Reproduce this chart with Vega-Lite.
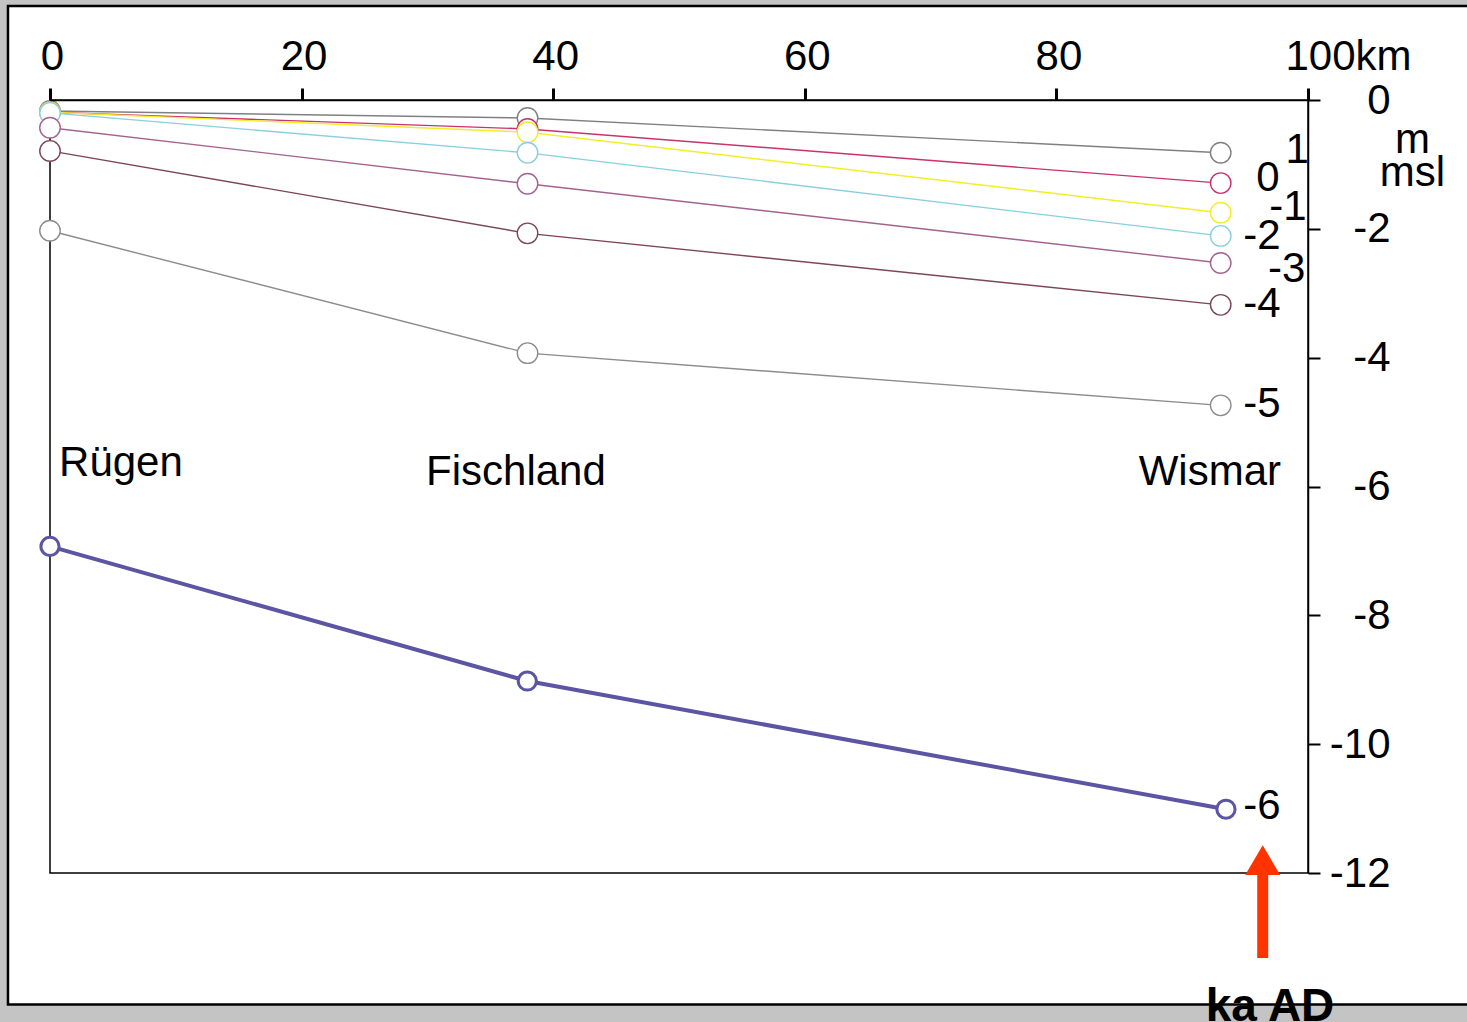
{
  "$schema": "https://vega.github.io/schema/vega-lite/v6.json",
  "autosize": {"type": "none"},
  "width": 1258,
  "height": 773,
  "padding": {"left": 50, "top": 100, "right": 159, "bottom": 149},
  "background": "#c4c4c4",
  "config": {
    "view": {"stroke": null},
    "font": "Liberation Sans"
  },
  "datasets": {
    "levels": [
      {"ka": "1", "place": "Rügen", "km": 0, "m": -0.17},
      {"ka": "1", "place": "Fischland", "km": 37.96, "m": -0.28},
      {"ka": "1", "place": "Wismar", "km": 93.06, "m": -0.82},
      {"ka": "0", "place": "Rügen", "km": 0, "m": -0.19},
      {"ka": "0", "place": "Fischland", "km": 37.96, "m": -0.45},
      {"ka": "0", "place": "Wismar", "km": 93.06, "m": -1.29},
      {"ka": "-1", "place": "Rügen", "km": 0, "m": -0.19},
      {"ka": "-1", "place": "Fischland", "km": 37.96, "m": -0.5},
      {"ka": "-1", "place": "Wismar", "km": 93.06, "m": -1.75},
      {"ka": "-2", "place": "Rügen", "km": 0, "m": -0.2},
      {"ka": "-2", "place": "Fischland", "km": 37.96, "m": -0.82},
      {"ka": "-2", "place": "Wismar", "km": 93.06, "m": -2.11},
      {"ka": "-3", "place": "Rügen", "km": 0, "m": -0.43},
      {"ka": "-3", "place": "Fischland", "km": 37.96, "m": -1.3},
      {"ka": "-3", "place": "Wismar", "km": 93.06, "m": -2.53},
      {"ka": "-4", "place": "Rügen", "km": 0, "m": -0.79},
      {"ka": "-4", "place": "Fischland", "km": 37.96, "m": -2.07},
      {"ka": "-4", "place": "Wismar", "km": 93.06, "m": -3.18},
      {"ka": "-5", "place": "Rügen", "km": 0, "m": -2.03},
      {"ka": "-5", "place": "Fischland", "km": 37.96, "m": -3.93},
      {"ka": "-5", "place": "Wismar", "km": 93.06, "m": -4.74},
      {"ka": "-6", "place": "Rügen", "km": 0, "m": -6.93},
      {"ka": "-6", "place": "Fischland", "km": 37.94, "m": -9.02},
      {"ka": "-6", "place": "Wismar", "km": 93.48, "m": -11.01}
    ],
    "serieslabels": [
      {"ka": "1", "km": 99.13, "m": -0.78},
      {"ka": "0", "km": 96.82, "m": -1.21},
      {"ka": "-1", "km": 98.4, "m": -1.66},
      {"ka": "-2", "km": 96.34, "m": -2.11},
      {"ka": "-3", "km": 98.3, "m": -2.62},
      {"ka": "-4", "km": 96.34, "m": -3.17},
      {"ka": "-5", "km": 96.34, "m": -4.72},
      {"ka": "-6", "km": 96.34, "m": -10.96}
    ],
    "places": [
      {"place": "Rügen", "km": 5.64, "m": -5.64},
      {"place": "Fischland", "km": 37.04, "m": -5.78},
      {"place": "Wismar", "km": 92.2, "m": -5.78}
    ]
  },
  "layer": [
    {
      "data": {"values": [{}]},
      "mark": {"type": "rect", "fill": "white", "stroke": "black", "strokeWidth": 2.5, "clip": false},
      "encoding": {
        "x": {"datum": -3.34, "type": "quantitative", "scale": {"domain": [0, 100], "nice": false, "zero": false},
          "axis": {
            "zindex": 5,
            "orient": "top",
            "values": [0, 20, 40, 60, 80, 100],
            "labelExpr": "datum.value == 100 ? '100km' : datum.label",
            "labelAlign": {"condition": {"test": "datum.value == 100", "value": "left"}, "value": "center"},
            "labelOffset": {"condition": {"test": "datum.value == 100", "value": -23}, "value": 2},
            "labelFontSize": 42,
            "labelColor": "black",
            "labelPadding": 10,
            "tickSize": 12,
            "tickWidth": 3,
            "tickColor": "black",
            "domainColor": "black",
            "domainWidth": 1.5,
            "grid": false,
            "title": null
          }},
        "x2": {"datum": 115},
        "y": {"datum": 1.46, "type": "quantitative", "scale": {"domain": [-12, 0], "nice": false, "zero": false},
          "axis": {
            "zindex": 5,
            "orient": "right",
            "values": [0, -2, -4, -6, -8, -10, -12],
            "labelExpr": "datum.value == 0 ? '0' : '-' + abs(datum.value)",
            "labelFontSize": 42,
            "labelColor": "black",
            "labelAlign": "right",
            "labelBaseline": "middle",
            "labelPadding": 70,
            "tickSize": 12,
            "tickWidth": 2,
            "tickColor": "black",
            "domainColor": "black",
            "domainWidth": 1.5,
            "grid": false,
            "title": ["m", "msl"],
            "titleAngle": 0,
            "titleFontSize": 42,
            "titleFontWeight": "normal",
            "titleColor": "black",
            "titleAlign": "center",
            "titleBaseline": "alphabetic",
            "titleLineHeight": 33,
            "titleX": 104,
            "titleY": 52
          }},
        "y2": {"datum": -14.04}
      }
    },
    {
      "data": {"values": [{}]},
      "mark": {"type": "rect", "fill": null, "fillOpacity": 0, "stroke": "black", "strokeWidth": 1.5},
      "encoding": {
        "x": {"datum": 0, "type": "quantitative"},
        "x2": {"datum": 100},
        "y": {"datum": 0, "type": "quantitative"},
        "y2": {"datum": -12}
      }
    },
    {
      "data": {"name": "levels"},
      "transform": [{"filter": "datum.ka != '-6'"}],
      "mark": {"type": "line", "strokeWidth": 1.4},
      "encoding": {
        "x": {"field": "km", "type": "quantitative"},
        "y": {"field": "m", "type": "quantitative"},
        "order": {"field": "km"},
        "color": {"field": "ka", "type": "nominal", "legend": null,
          "scale": {"domain": ["1", "0", "-1", "-2", "-3", "-4", "-5", "-6"],
                    "range": ["#808080", "#c8336e", "#f2ee2a", "#88cfe0", "#a5628f", "#7d4656", "#8c8c8c", "#5b55a3"]}}
      }
    },
    {
      "data": {"name": "levels"},
      "transform": [{"filter": "datum.ka == '-6'"}],
      "mark": {"type": "line", "strokeWidth": 4},
      "encoding": {
        "x": {"field": "km", "type": "quantitative"},
        "y": {"field": "m", "type": "quantitative"},
        "order": {"field": "km"},
        "color": {"field": "ka", "type": "nominal", "legend": null}
      }
    },
    {
      "data": {"name": "levels"},
      "transform": [{"filter": "datum.ka != '-6'"}],
      "mark": {"type": "point", "filled": false, "fill": "white", "fillOpacity": 1, "opacity": 1, "size": 420, "strokeWidth": 1.4},
      "encoding": {
        "x": {"field": "km", "type": "quantitative"},
        "y": {"field": "m", "type": "quantitative"},
        "color": {"field": "ka", "type": "nominal", "legend": null}
      }
    },
    {
      "data": {"name": "levels"},
      "transform": [{"filter": "datum.ka == '-6'"}],
      "mark": {"type": "point", "filled": false, "fill": "white", "fillOpacity": 1, "opacity": 1, "size": 330, "strokeWidth": 3},
      "encoding": {
        "x": {"field": "km", "type": "quantitative"},
        "y": {"field": "m", "type": "quantitative"},
        "color": {"field": "ka", "type": "nominal", "legend": null}
      }
    },
    {
      "data": {"name": "serieslabels"},
      "mark": {"type": "text", "fontSize": 42, "align": "center", "baseline": "middle", "color": "black"},
      "encoding": {
        "x": {"field": "km", "type": "quantitative"},
        "y": {"field": "m", "type": "quantitative"},
        "text": {"field": "ka"}
      }
    },
    {
      "data": {"name": "places"},
      "mark": {"type": "text", "fontSize": 42, "align": "center", "baseline": "middle", "color": "black"},
      "encoding": {
        "x": {"field": "km", "type": "quantitative"},
        "y": {"field": "m", "type": "quantitative"},
        "text": {"field": "place"}
      }
    },
    {
      "data": {"values": [{}]},
      "mark": {"type": "rule", "color": "#ff3300", "strokeWidth": 11, "strokeCap": "butt", "clip": false},
      "encoding": {
        "x": {"datum": 96.4, "type": "quantitative"},
        "y": {"datum": -12.0, "type": "quantitative"},
        "y2": {"datum": -13.32}
      }
    },
    {
      "data": {"values": [{}]},
      "mark": {"type": "point", "shape": "M-1,0.85L1,0.85L0,-0.85Z", "filled": true, "color": "#ff3300", "opacity": 1, "size": 1225, "clip": false},
      "encoding": {
        "x": {"datum": 96.4, "type": "quantitative"},
        "y": {"datum": -11.8, "type": "quantitative"}
      }
    },
    {
      "data": {"values": [{}]},
      "mark": {"type": "text", "text": "ka AD", "fontSize": 46, "fontWeight": "bold", "align": "center", "baseline": "alphabetic", "color": "black", "clip": false},
      "encoding": {
        "x": {"datum": 96.98, "type": "quantitative"},
        "y": {"datum": -14.29, "type": "quantitative"}
      }
    }
  ]
}
